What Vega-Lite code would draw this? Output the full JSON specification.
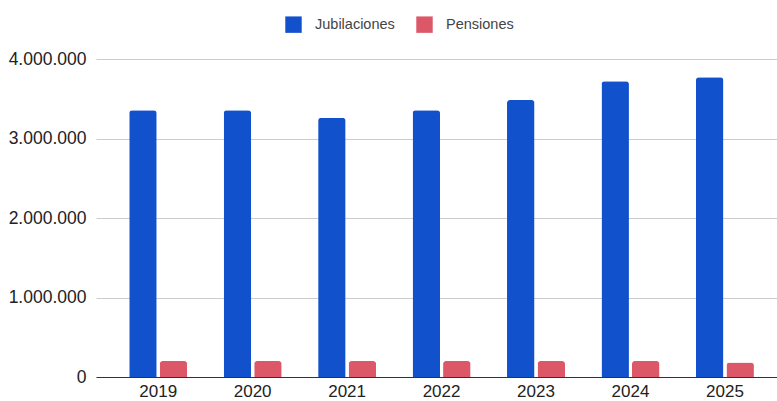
{
  "$schema": "https://vega.github.io/schema/vega-lite/v6.json",
  "autosize": {"type": "none"},
  "width": 681,
  "height": 318,
  "padding": {"left": 96, "top": 59, "right": 0, "bottom": 24},
  "background": "white",
  "data": {
    "values": [
      {"anio": "2019", "tipo": "Jubilaciones", "valor": 3355000},
      {"anio": "2019", "tipo": "Pensiones", "valor": 201000},
      {"anio": "2020", "tipo": "Jubilaciones", "valor": 3355000},
      {"anio": "2020", "tipo": "Pensiones", "valor": 201000},
      {"anio": "2021", "tipo": "Jubilaciones", "valor": 3262000},
      {"anio": "2021", "tipo": "Pensiones", "valor": 201000},
      {"anio": "2022", "tipo": "Jubilaciones", "valor": 3355000},
      {"anio": "2022", "tipo": "Pensiones", "valor": 201000},
      {"anio": "2023", "tipo": "Jubilaciones", "valor": 3484000},
      {"anio": "2023", "tipo": "Pensiones", "valor": 201000},
      {"anio": "2024", "tipo": "Jubilaciones", "valor": 3719000},
      {"anio": "2024", "tipo": "Pensiones", "valor": 201000},
      {"anio": "2025", "tipo": "Jubilaciones", "valor": 3770000},
      {"anio": "2025", "tipo": "Pensiones", "valor": 181000}
    ]
  },
  "mark": {"type": "bar", "cornerRadiusTopLeft": 3, "cornerRadiusTopRight": 3},
  "encoding": {
    "x": {
      "field": "anio",
      "type": "nominal",
      "scale": {"paddingInner": 0.386, "paddingOuter": 0.298, "align": 0.59},
      "axis": {
        "title": null,
        "labelAngle": 0,
        "labelFont": "Liberation Sans",
        "labelFontSize": 17,
        "labelColor": "#222222",
        "labelPadding": 6,
        "ticks": false,
        "domainColor": "#333333",
        "domainWidth": 1,
        "grid": false
      }
    },
    "xOffset": {
      "field": "tipo",
      "type": "nominal",
      "scale": {"paddingInner": 0.1, "paddingOuter": 0}
    },
    "y": {
      "field": "valor",
      "type": "quantitative",
      "scale": {"domain": [0, 4000000], "nice": false},
      "axis": {
        "title": null,
        "values": [0, 1000000, 2000000, 3000000, 4000000],
        "labelExpr": "replace(format(datum.value, ','), regexp(',', 'g'), '.')",
        "labelFont": "Liberation Sans",
        "labelFontSize": 17.5,
        "labelColor": "#222222",
        "labelPadding": 10,
        "ticks": false,
        "domain": false,
        "gridColor": "#cccccc",
        "gridWidth": 1
      }
    },
    "color": {
      "field": "tipo",
      "type": "nominal",
      "scale": {"domain": ["Jubilaciones", "Pensiones"], "range": ["#1151cc", "#dc5868"]},
      "legend": {
        "title": null,
        "orient": "none",
        "direction": "horizontal",
        "legendX": 189,
        "legendY": -43,
        "symbolType": "square",
        "symbolSize": 270,
        "symbolStrokeWidth": 0,
        "symbolOpacity": 1,
        "labelFont": "Liberation Sans",
        "labelFontSize": 14.5,
        "labelColor": "#444444",
        "labelOffset": 13,
        "columnPadding": 21
      }
    }
  },
  "config": {
    "view": {"stroke": null},
    "axis": {"labelFont": "Liberation Sans"}
  }
}
